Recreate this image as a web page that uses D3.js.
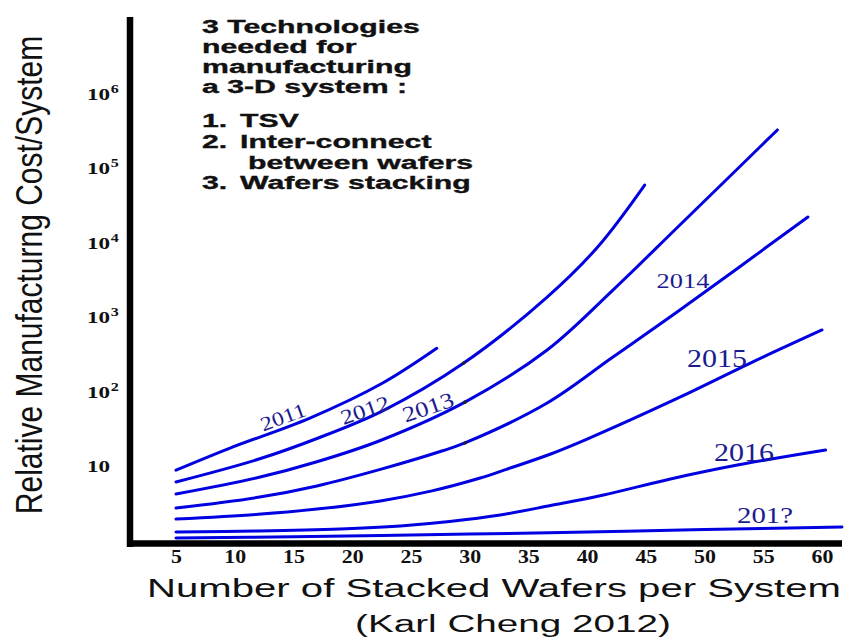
<!DOCTYPE html>
<html><head><meta charset="utf-8">
<script src="https://cdn.jsdelivr.net/npm/d3@7"></script>
<style>body{margin:0;background:#fff}svg{display:block}</style>
</head><body>
<svg id="c" width="856" height="637"></svg>
<script>
// ---------- data ----------
const xTicks = [5,10,15,20,25,30,35,40,45,50,55,60];
const yTicks = [10,100,1000,10000,100000,1000000];
const yTickExp = ["","2","3","4","5","6"];
const years = ["2011","2012","2013","2014","2015","2016","201?"];
const s2011 = [[5,8.8],[9.6,17.4],[16.4,44],[22.6,130],[27.2,380]];
const s2012 = [[5,6.1],[12,12.3],[17,23.4],[22.6,55],[29.5,241],[36.6,1850],[40.9,8700],[44.9,59000]];
const s2013 = [[5,4.2],[12,7.0],[17,11.4],[22.4,22],[29.6,72],[36.6,361],[42.2,2300],[47.9,17200],[56.2,324000]];
const s2014 = [[5,2.73],[12,3.8],[17,5.4],[22.4,9.0],[27.7,16],[29.6,20.4],[36.6,70],[42.2,290],[47.9,1240],[58.8,22000]];
const s2015 = [[5,1.94],[12,2.25],[17,2.64],[22.4,3.4],[26.7,4.6],[30.9,6.9],[33.2,9.1],[36.9,14.5],[40,23],[47.9,84],[53.9,241],[60,670]];
const s2016 = [[5,1.30],[12,1.34],[19,1.43],[24.1,1.57],[28.3,1.80],[32.6,2.20],[36.9,2.95],[41.4,4.08],[47.1,6.7],[52.8,10.3],[60.3,16.4]];
const s201x = [[5,1.08],[15,1.12],[30,1.22],[40,1.30],[50,1.40],[61.7,1.52]];
const dotMarks = [[29.5,241],[29.6,72],[29.6,20.4]];
const yTitle = "Relative Manufacturng Cost/System";
const xTitle = "Number of Stacked Wafers per System";
const credit = "(Karl Cheng 2012)";
const noteHead = ["3 Technologies","needed for","manufacturing","a 3-D system :"];
const noteItems = [["1.","TSV"],["2.","Inter-connect"],["","between wafers"],["3.","Wafers stacking"]];

// ---------- layout ----------
const series = [s2011,s2012,s2013,s2014,s2015,s2016,s201x];
const labelPos = [
  {x:283,y:417,r:-20,s:20},
  {x:365,y:410,r:-19,s:21},
  {x:428,y:407,r:-19,s:22},
  {x:683,y:280,r:0,s:22},
  {x:717,y:358,r:0,s:25},
  {x:744,y:452,r:0,s:25},
  {x:765,y:515,r:0,s:24}
];
const svg = d3.select("#c");
const x = d3.scaleLinear().domain([5,60]).range([176,822]);
const y = d3.scaleLog().domain([1,1e7]).range([540.5,19]);
const blue = "#0000e0", labBlue = "#1c1c90";

// curves
const line = d3.line().x(d=>x(d[0])).y(d=>y(d[1])).curve(d3.curveCatmullRom.alpha(0.5));
svg.append("g").selectAll("path").data(series).join("path")
  .attr("d", line).attr("fill","none").attr("stroke",blue)
  .attr("stroke-width",3).attr("stroke-linecap","round");
svg.append("g").selectAll("circle").data(dotMarks).join("circle")
  .attr("cx",d=>x(d[0])).attr("cy",d=>y(d[1])).attr("r",1.8).attr("fill","#222");

// curve labels
svg.append("g").selectAll("text").data(years).join("text")
  .attr("transform",(d,i)=>`translate(${labelPos[i].x},${labelPos[i].y}) rotate(${labelPos[i].r}) scale(1.2,1)`)
  .attr("text-anchor","middle").attr("dominant-baseline","central")
  .attr("font-family","'Liberation Serif','Times New Roman',serif")
  .attr("font-size",(d,i)=>labelPos[i].s).attr("fill",labBlue).text(d=>d);

// x axis
const gx = svg.append("g").attr("transform","translate(0,543.5)")
  .call(d3.axisBottom(x).tickValues(xTicks).tickSize(0).tickFormat(d3.format("d")));
gx.select(".domain").remove();
gx.selectAll("text").attr("y",19.5).attr("dy",0)
  .attr("transform","scale(1.15,1)")
  .attr("font-family","'Liberation Serif','Times New Roman',serif")
  .attr("font-weight","bold").attr("font-size",19).attr("fill","#111");

// y axis
const gy = svg.append("g").attr("transform","translate(130,0)")
  .call(d3.axisLeft(y).tickValues(yTicks).tickSize(0).tickFormat(()=>"10"));
gy.select(".domain").remove();
gy.selectAll("text").attr("x",0).attr("dy",0).attr("y",0)
  .attr("text-anchor","start")
  .attr("transform","translate(-43,5.5) scale(1.4,1)")
  .attr("font-family","'Liberation Serif','Times New Roman',serif")
  .attr("font-weight","bold").attr("font-size",16.5).attr("fill","#111")
  .each(function(d,i){
    if(yTickExp[i]) d3.select(this).append("tspan").attr("dy",-7).attr("dx",0.5)
      .attr("font-size",11.5).text(yTickExp[i]);
  });

// axis lines
svg.append("line").attr("x1",130).attr("x2",130).attr("y1",17).attr("y2",547)
  .attr("stroke","#000").attr("stroke-width",6.5);
svg.append("line").attr("x1",127).attr("x2",842).attr("y1",543.5).attr("y2",543.5)
  .attr("stroke","#000").attr("stroke-width",6.5);

// titles
svg.append("text").attr("transform","translate(42,275) scale(1.2,1) rotate(-90)")
  .attr("text-anchor","middle").attr("font-family","'Liberation Sans',Arial,sans-serif")
  .attr("font-size",30).attr("fill","#111").text(yTitle);

function fitText(txt, cx, by, size, target){
  const t = svg.append("text").attr("text-anchor","middle")
    .attr("font-family","'Liberation Sans',Arial,sans-serif")
    .attr("font-size",size).attr("fill","#111").text(txt);
  const len = t.node().getComputedTextLength();
  t.attr("transform",`translate(${cx},${by}) scale(${target/len},1)`);
}
fitText(xTitle, 494, 597, 26.5, 694);
fitText(credit, 513, 632, 24.5, 316);

// note block
const note = svg.append("g").attr("font-family","'Liberation Sans',Arial,sans-serif")
  .attr("font-weight","bold").attr("font-size",18).attr("fill","#111")
  .attr("stroke","#111").attr("stroke-width",0.35);
const sx = 1.68;
const headBase = [33,53,73,93];
noteHead.forEach((s,i)=>{
  note.append("text").attr("transform",`translate(202,${headBase[i]}) scale(${sx},1)`).text(s);
});
const itemBase = [127,148,168.5,189];
noteItems.forEach((s,i)=>{
  if(s[0]) note.append("text").attr("transform",`translate(202,${itemBase[i]}) scale(${sx},1)`).text(s[0]);
  note.append("text").attr("transform",`translate(${s[0]?240:248},${itemBase[i]}) scale(${sx},1)`).text(s[1]);
});
</script>
</body></html>
